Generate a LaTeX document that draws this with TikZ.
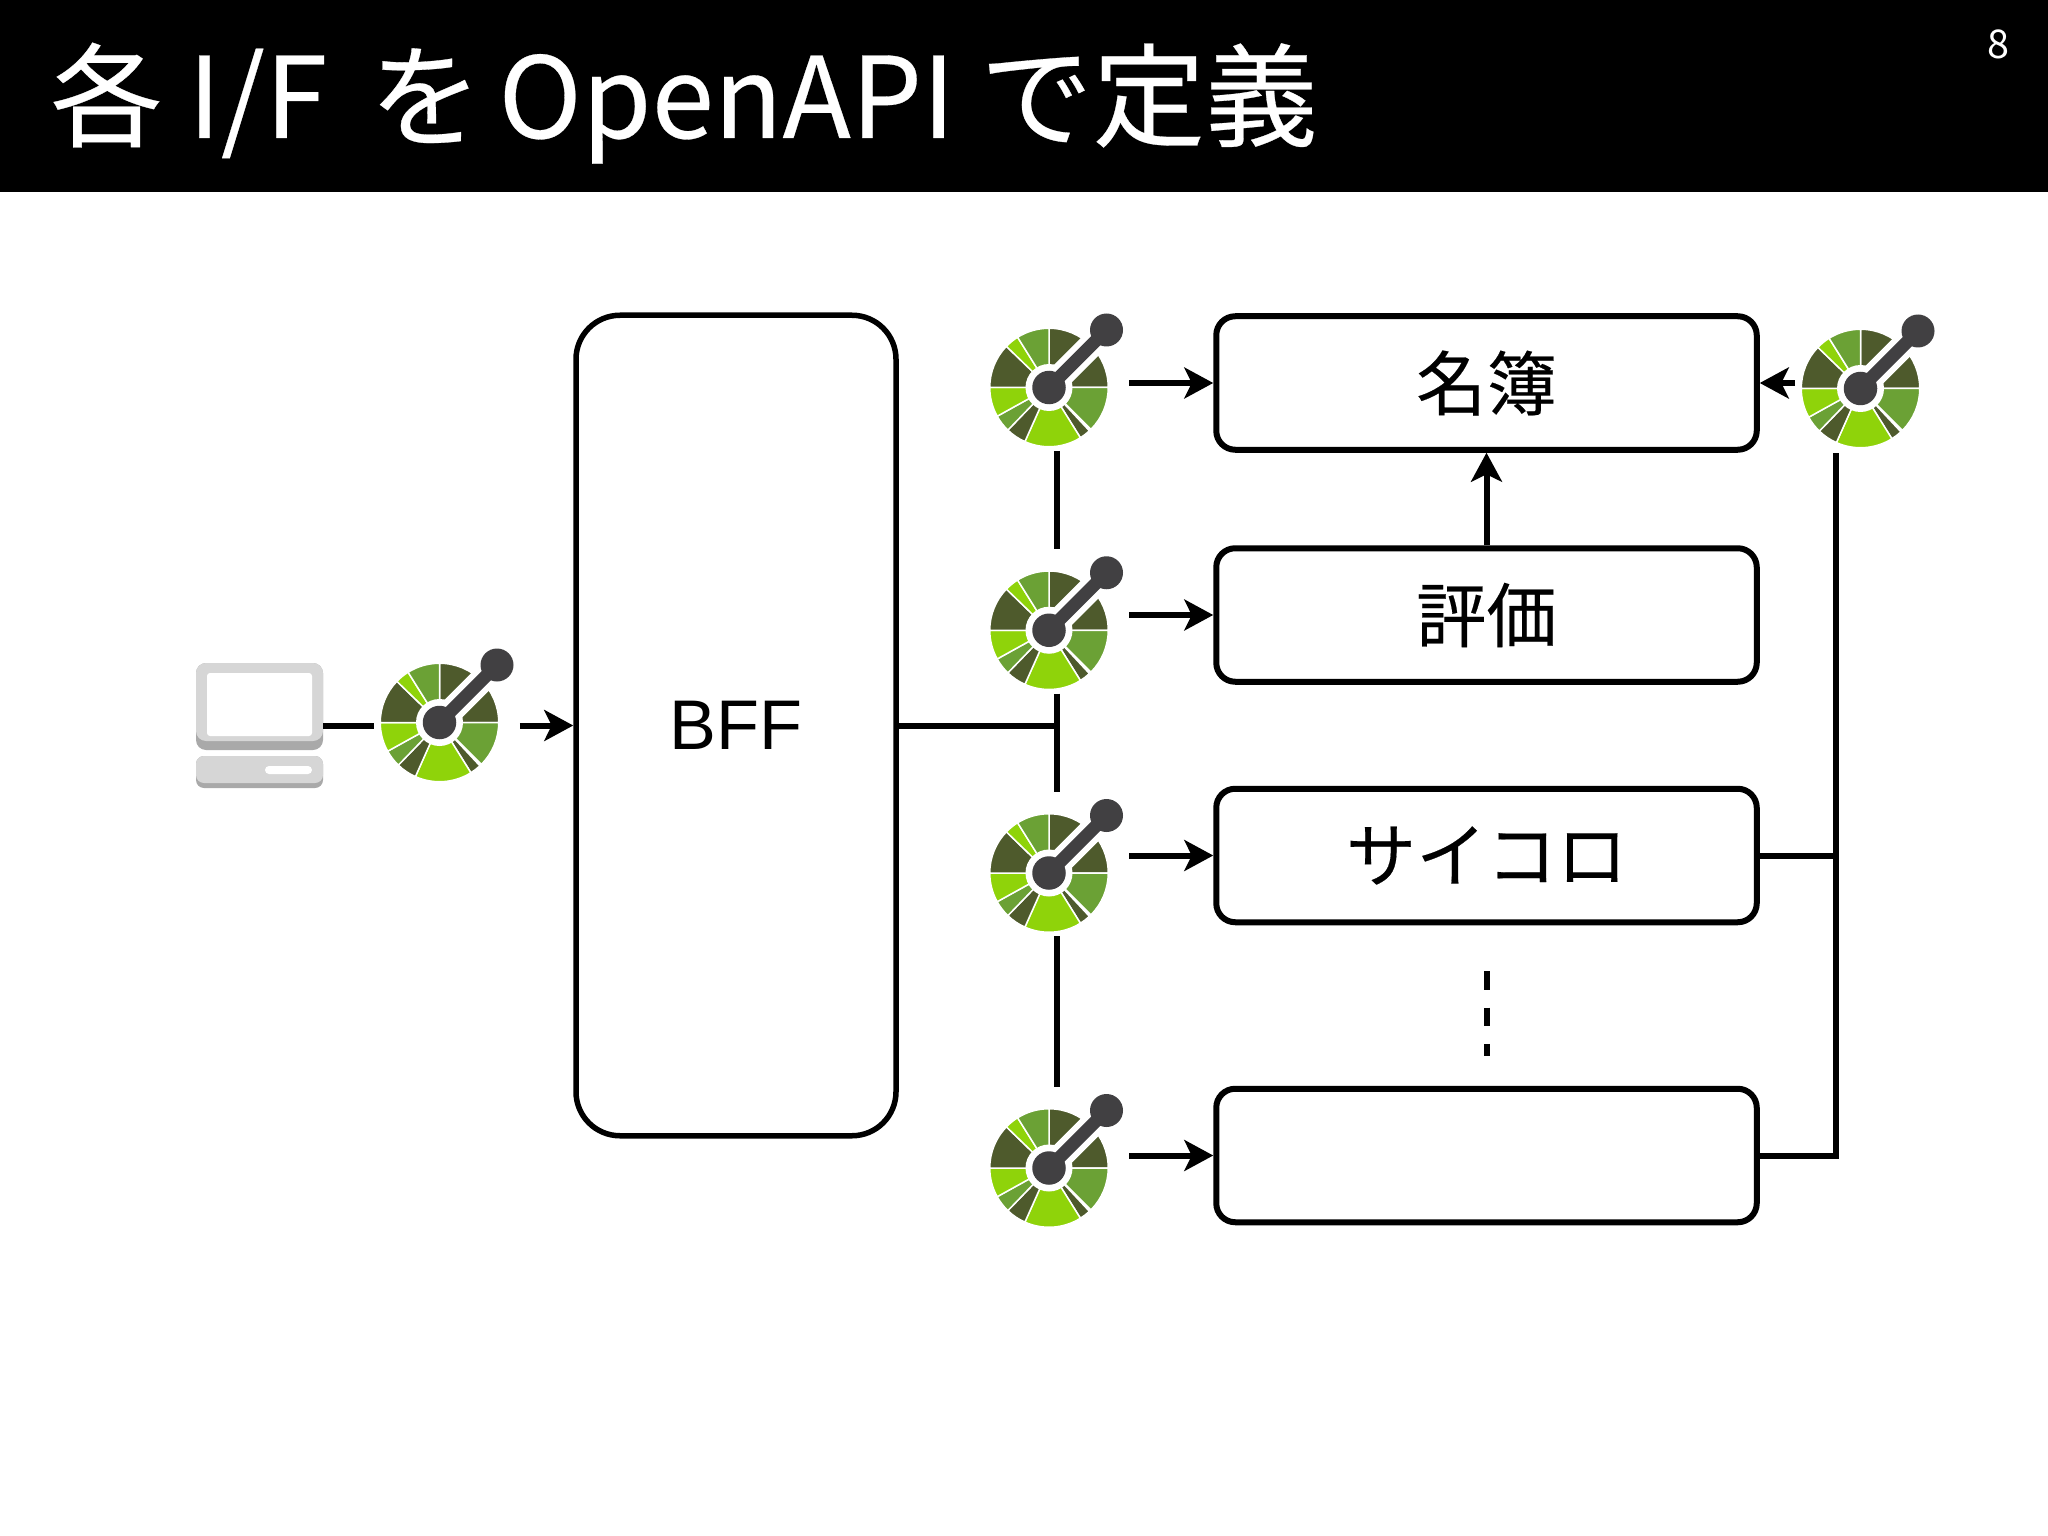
\documentclass[tikz,border=0pt]{standalone}
\usepackage{fontspec}
\setmainfont{Noto Sans CJK JP}
\newfontfamily\bfflabel{Liberation Sans}
\newfontfamily\heavier[FakeBold=0.25]{Noto Sans CJK JP}
\usetikzlibrary{arrows.meta}

\definecolor{oaidark}{HTML}{4E5A2C}
\definecolor{oaimid}{HTML}{6BA135}
\definecolor{oaibright}{HTML}{8FD30A}
\definecolor{oaihub}{HTML}{414042}
\definecolor{pclight}{HTML}{D6D6D6}
\definecolor{pcshade}{HTML}{A9A9A9}

\tikzstyle{service} = [rectangle, rounded corners=0.38cm, minimum width=10.81cm, minimum height=2.67cm, inner sep=0pt, text centered, draw=black, line width=0.12cm, font=\heavier\fontsize{40}{44}\selectfont, text=black]
\tikzstyle{bffbox} = [rectangle, rounded corners=0.88cm, minimum width=6.4cm, minimum height=16.41cm, inner sep=0pt, text centered, draw=black, line width=0.11cm, font=\bfflabel\fontsize{40}{44}\selectfont, text=black]
\tikzstyle{api} = [rectangle, minimum width=2.9cm, minimum height=2.88cm, inner sep=0pt]
\tikzstyle{pcbox} = [rectangle, minimum width=2.54cm, minimum height=2.5cm, inner sep=0pt]
\tikzstyle{line} = [line width=0.12cm]
\tikzstyle{arrow} = [line width=0.12cm, -{Stealth[length=0.58cm, width=0.62cm, inset=0.15cm]}]

\newcommand{\oaiwedge}[3]{\fill[#1, draw=white, line width=0.03cm] (0,0) -- (#2:1.185) arc (#2:#3:1.185) -- cycle;}

\tikzset{
  pics/openapi/.style={code={
    \begin{scope}[shift={(-0.15,-0.18)}]
      \oaiwedge{oaidark}{0}{90}
      \oaiwedge{oaimid}{-45}{0}
      \oaiwedge{oaidark}{-58}{-47}
      \oaiwedge{oaibright}{-114}{-58}
      \oaiwedge{oaidark}{-134}{-114}
      \oaiwedge{oaimid}{-151}{-134}
      \oaiwedge{oaibright}{-180}{-151}
      \oaiwedge{oaidark}{136}{180}
      \oaiwedge{oaibright}{122}{136}
      \oaiwedge{oaimid}{90}{122}
      \draw[white, line width=0.5cm] (0,0) -- (1.25,1.25);
      \fill[white] (0,0) circle (0.47);
      \draw[oaihub, line width=0.26cm] (0,0) -- (1.15,1.15);
      \fill[oaihub] (0,0) circle (0.335);
      \fill[oaihub] (1.15,1.15) circle (0.33);
    \end{scope}
  }},
  pics/desktop/.style={code={
    \fill[pcshade, rounded corners=0.2cm] (-1.27,1.25) rectangle (1.27,-0.49);
    \fill[pclight, rounded corners=0.2cm] (-1.27,1.25) rectangle (1.27,-0.31);
    \fill[white, rounded corners=0.06cm] (-1.05,1.05) rectangle (1.05,-0.21);
    \fill[pcshade, rounded corners=0.16cm] (-1.27,-0.61) rectangle (1.27,-1.25);
    \fill[pclight, rounded corners=0.16cm] (-1.27,-0.61) rectangle (1.27,-1.15);
    \fill[white, rounded corners=0.08cm] (0.11,-0.81) rectangle (1.05,-0.97);
  }}
}

\begin{document}
\begin{tikzpicture}[node distance=2cm]

\useasboundingbox (0,0) rectangle (40.96,-30.72);

% Header
\fill[black] (0,0) rectangle (40.96,-3.84);
\node (title) [anchor=base west, inner sep=0pt, text=white, font=\heavier\fontsize{64}{68}\selectfont] at (1.0,-2.76) {各 I/F\hspace{0.34cm} を\hspace{-0.17cm} OpenAPI で定義};
\node (pageNo) [anchor=base, inner sep=0pt, text=white, font=\fontsize{22.5}{24}\selectfont] at (39.96,-1.18) {8};

% Column 3 - Services
\node (roster) [service] at (29.73,-7.66) {名簿};
\node (rating) [service, below of=roster, node distance=4.64cm] {評価};
\node (dice) [service, below of=rating, node distance=4.81cm] {サイコロ};
\node (extra) [service, below of=dice, node distance=6cm] {};

% Column 2 - OpenAPI marks
\node (apiRoster) [api, left of=roster, node distance=8.6cm, yshift=0.09cm] {};
\node (apiRating) [api, below of=apiRoster, node distance=4.855cm] {};
\node (apiDice) [api, below of=apiRating, node distance=4.855cm] {};
\node (apiExtra) [api, below of=apiDice, node distance=5.9cm] {};
\node (apiDoc) [api, right of=roster, node distance=7.63cm, yshift=0.07cm] {};

% Column 1 - Client and BFF
\node (bff) [bffbox] at (14.72,-14.51) {BFF};
\node (apiClient) [api, left of=bff, node distance=5.78cm, yshift=0.24cm] {};
\node (pc) [pcbox, left of=bff, node distance=9.53cm] {};

\pic at (pc) {desktop};
\pic at (apiClient) {openapi};
\pic at (apiRoster) {openapi};
\pic at (apiRating) {openapi};
\pic at (apiDice) {openapi};
\pic at (apiExtra) {openapi};
\pic at (apiDoc) {openapi};

% Free end of the right hand line
\coordinate (busTop) at (36.72,-9.06);

% Column 1 - Arrows
\draw [line] (pc.east |- bff.west) -- (apiClient.west |- bff.west);
\draw [arrow] (apiClient.east |- bff.west) -- (bff.west);
\draw [line] (bff.east) -- (bff.east -| apiRating.south);

% Column 2 - Lines
\draw [line] (apiRoster.south) -- (apiRating.north);
\draw [line] (apiRating.south) -- (apiDice.north);
\draw [line] (apiDice.south) -- (apiExtra.north);

% Column 2 - Arrows
\draw [arrow] (apiRoster.east |- roster.west) -- (roster.west);
\draw [arrow] (apiRating.east |- rating.west) -- (rating.west);
\draw [arrow] (apiDice.east |- dice.west) -- (dice.west);
\draw [arrow] (apiExtra.east |- extra.west) -- (extra.west);

% Column 3 - Arrows
\draw [arrow] (rating.north) -- (roster.south);
\draw [arrow] (apiDoc.west |- roster.east) -- (roster.east);
\draw [line] (extra.east) -| (busTop);
\draw [line] (dice.east) -- (dice.east -| busTop);
\draw [line, dash pattern=on 0.365cm off 0.36cm, shorten <=0.92cm, shorten >=0.59cm] (dice.south) -- (extra.north);

\end{tikzpicture}
\end{document}
